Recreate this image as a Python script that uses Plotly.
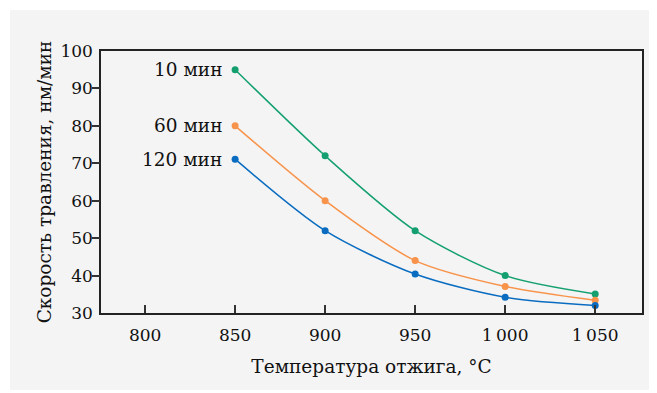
import plotly.graph_objects as go

temps = [850, 900, 950, 1000, 1050]
rate_10 = [95, 72, 52, 40, 35.1]
rate_60 = [80, 60, 44, 37.1, 33.4]
rate_120 = [71.1, 52, 40.4, 34.2, 32.0]
series_names = ["10 мин", "60 мин", "120 мин"]
colors = ["#14a06e", "#f7934a", "#0a6cc0"]
x_ticks = [800, 850, 900, 950, 1000, 1050]
x_ticktext = ["800", "850", "900", "950", "1\u2009000", "1\u2009050"]
y_ticks = [30, 40, 50, 60, 70, 80, 90, 100]
y_tickmarks = [40, 50, 60, 70, 80, 90]
y_range = [30, 100]

FONT = "DejaVu Serif"
FS = 18.5
TFS = 17
OFF = 8  # browser body margin
L, R, T, B = 101 - OFF, 642 - OFF, 51 - OFF, 313 - OFF
W, H = 657, 393
PW, PH = R - L, B - T

fig = go.Figure()
for name, vals, c in zip(series_names, [rate_10, rate_60, rate_120], colors):
    fig.add_trace(go.Scatter(x=temps, y=vals, mode="lines+markers", name=name,
                             line=dict(color=c, width=1.5, shape="spline", smoothing=0.8),
                             marker=dict(color=c, size=7), showlegend=False))
    fig.add_annotation(x=temps[0], y=vals[0], text=name, showarrow=False,
                       xanchor="right", yanchor="middle", xshift=-11,
                       font=dict(family=FONT, size=FS, color="#111"))

# helper trace on the tick-mark axis (no visible data)
fig.add_trace(go.Scatter(x=[temps[0]], y=[y_ticks[0]], yaxis="y2", mode="markers",
                         marker=dict(opacity=0), showlegend=False, hoverinfo="skip"))

fig.add_shape(type="rect", xref="paper", yref="paper",
              x0=(10 - OFF - L) / PW, x1=(655 - OFF - L) / PW,
              y0=(B - (390 - OFF)) / PH, y1=(B - (10 - OFF)) / PH,
              fillcolor="#f4f4f4", line=dict(width=0), layer="below")

fig.update_layout(
    width=W, height=H,
    margin=dict(l=L, r=W - R, t=T, b=H - B),
    paper_bgcolor="white", plot_bgcolor="rgba(0,0,0,0)",
    font=dict(family=FONT, size=TFS, color="#111"),
    xaxis=dict(range=[775.5, 1076], tickvals=x_ticks, ticktext=x_ticktext,
               ticks="inside", ticklen=8, tickcolor="#333", tickwidth=1.5,
               ticklabelstandoff=6,
               showline=True, linecolor="#222", linewidth=1.5, mirror=True,
               showgrid=False, zeroline=False, automargin=False,
               title=dict(text="Температура отжига, °C", standoff=16,
                          font=dict(family=FONT, size=FS))),
    yaxis=dict(range=y_range, tickvals=y_ticks, ticks="",
               ticklabelstandoff=3,
               showline=True, linecolor="#222", linewidth=1.5, mirror=True,
               showgrid=False, zeroline=False, automargin=False,
               title=dict(text="Скорость травления, нм/мин", standoff=4,
                          font=dict(family=FONT, size=FS))),
    yaxis2=dict(range=y_range, overlaying="y", side="left", tickvals=y_tickmarks,
                ticks="outside", ticklen=8, tickcolor="#333", tickwidth=1.5,
                showticklabels=False, showline=False, showgrid=False,
                zeroline=False, automargin=False),
)
fig.write_html("out.html")
